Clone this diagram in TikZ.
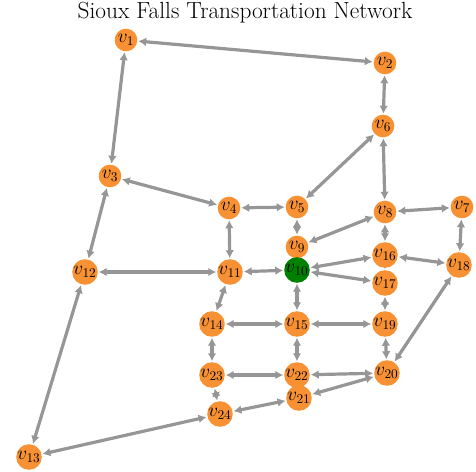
\documentclass[tikz,border=0pt]{standalone}
\usetikzlibrary{arrows.meta,backgrounds}
\definecolor{nodeorange}{RGB}{247,145,51}
\definecolor{nodegreen}{RGB}{0,128,0}
\definecolor{edgegray}{RGB}{150,150,150}

\begin{document}
\begin{tikzpicture}[
				x=0.75pt,y=-0.75pt,
				every node/.style={font=\Large}]
			\tikzstyle{city node}=[circle,fill=nodeorange,minimum size=17pt,inner sep=0]
			\tikzstyle{source node}=[city node,fill=nodegreen]
			\tikzstyle{road}=[draw=edgegray,line width=2.4pt,
				{Latex[length=6pt,width=6.5pt]}-{Latex[length=6pt,width=6.5pt]},
				shorten <=0.5pt,shorten >=0.5pt]
			\useasboundingbox (0,0) rectangle (476,472);
			\node[font=\fontsize{17.5}{20}\selectfont] (title) at (245,13) {Sioux Falls Transportation Network};
			% vertices
			\node[city node] (v1) at (126,40) {$v_{1}$};
			\node[city node] (v2) at (385,63) {$v_{2}$};
			\node[city node] (v3) at (110,176) {$v_{3}$};
			\node[city node] (v4) at (229,208) {$v_{4}$};
			\node[city node] (v5) at (297,207) {$v_{5}$};
			\node[city node] (v6) at (383,126) {$v_{6}$};
			\node[city node] (v7) at (462,207) {$v_{7}$};
			\node[city node] (v8) at (385,212) {$v_{8}$};
			\node[city node] (v9) at (297,247) {$v_{9}$};
			\node[source node] (v10) at (297,270) {$v_{10}$};
			\node[city node] (v11) at (230,272) {$v_{11}$};
			\node[city node] (v12) at (85,272) {$v_{12}$};
			\node[city node] (v13) at (29,457) {$v_{13}$};
			\node[city node] (v14) at (212,324) {$v_{14}$};
			\node[city node] (v15) at (297,324) {$v_{15}$};
			\node[city node] (v16) at (385,255) {$v_{16}$};
			\node[city node] (v17) at (385,283) {$v_{17}$};
			\node[city node] (v18) at (459,265) {$v_{18}$};
			\node[city node] (v19) at (385,324) {$v_{19}$};
			\node[city node] (v20) at (387,373) {$v_{20}$};
			\node[city node] (v21) at (299,398) {$v_{21}$};
			\node[city node] (v22) at (297,375) {$v_{22}$};
			\node[city node] (v23) at (212,375) {$v_{23}$};
			\node[city node] (v24) at (220,414) {$v_{24}$};
			% roads, under the vertices
			\begin{scope}[on background layer]
			\foreach \a/\b in {1/2,1/3,2/6,3/4,3/12,4/5,4/11,5/6,5/9,6/8,7/8,7/18,
					8/9,8/16,9/10,10/11,10/15,10/16,10/17,11/12,11/14,12/13,13/24,
					14/15,14/23,15/19,15/22,16/17,16/18,17/19,18/20,19/20,20/21,
					20/22,21/22,21/24,22/23,23/24}
				\draw[road] (v\a) -- (v\b);
			\end{scope}
		\end{tikzpicture}
\end{document}
